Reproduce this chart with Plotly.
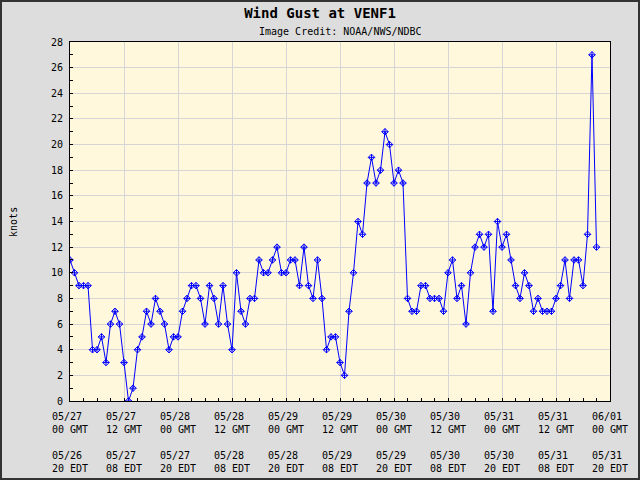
import plotly.graph_objects as go
import pandas as pd

# Hourly wind gust (knots) starting 05/27 00 GMT
gust = [11, 10, 9, 9, 9, 4, 4, 5, 3, 6, 7, 6, 3, 0, 1, 4, 5, 7, 6, 8,
        7, 6, 4, 5, 5, 7, 8, 9, 9, 8, 6, 9, 8, 6, 9, 6, 4, 10, 7, 6,
        8, 8, 11, 10, 10, 11, 12, 10, 10, 11, 11, 9, 12, 9, 8, 11, 8, 4, 5, 5,
        3, 2, 7, 10, 14, 13, 17, 19, 17, 18, 21, 20, 17, 18, 17, 8, 7, 7, 9, 9,
        8, 8, 8, 7, 10, 11, 8, 9, 6, 10, 12, 13, 12, 13, 7, 14, 12, 13, 11, 9,
        8, 10, 9, 7, 8, 7, 7, 7, 8, 9, 11, 8, 11, 11, 9, 13, 27, 12]
times = pd.date_range("2013-05-27 00:00", periods=len(gust), freq="h")

tick_times = pd.date_range("2013-05-27 00:00", "2013-06-01 00:00", freq="12h")
gmt_dates = ["05/27", "05/27", "05/28", "05/28", "05/29", "05/29",
             "05/30", "05/30", "05/31", "05/31", "06/01"]
gmt_hours = ["00 GMT", "12 GMT"] * 5 + ["00 GMT"]
edt_dates = ["05/26", "05/27", "05/27", "05/28", "05/28", "05/29",
             "05/29", "05/30", "05/30", "05/31", "05/31"]
edt_hours = ["20 EDT", "08 EDT"] * 5 + ["20 EDT"]

NB = "\u00a0"
ticktext = [f"{a}{NB}<br>{b}<br>{NB}<br>{c}{NB}<br>{d}"
            for a, b, c, d in zip(gmt_dates, gmt_hours, edt_dates, edt_hours)]

FONT = "DejaVu Sans Mono"

fig = go.Figure()
fig.add_trace(go.Scatter(
    x=times, y=gust, mode="lines+markers",
    line=dict(color="#0000FF", width=1),
    marker=dict(symbol="diamond-cross-open", size=5, color="#0000FF",
                line=dict(width=1, color="#0000FF")),
    hoverinfo="skip", showlegend=False,
))

fig.update_layout(
    width=640, height=480,
    margin=dict(l=70, r=30, t=42, b=79),
    paper_bgcolor="#DDDDDD",
    plot_bgcolor="#FFF8DC",
    font=dict(family=FONT, size=10, color="#000000"),
    title=dict(text="Wind Gust at VENF1", x=0.5, xanchor="center",
               y=1 - 13 / 480, yanchor="middle",
               font=dict(family=FONT, size=14, color="#000000", weight="bold")),
    showlegend=False,
)

fig.update_xaxes(
    range=[tick_times[0], tick_times[-1]],
    tickmode="array", tickvals=list(tick_times), ticktext=ticktext,
    ticks="inside", ticklen=3, tickcolor="#000000",
    ticklabelstandoff=6, automargin=False,
    showgrid=True, gridcolor="#D6D6D6", gridwidth=1,
    showline=True, linecolor="#000000", linewidth=1, mirror=True,
    minor=dict(ticks="inside", ticklen=3, tickcolor="#000000",
               dtick=3 * 3600 * 1000, tick0=tick_times[0], showgrid=False),
    zeroline=False,
    tickfont=dict(family=FONT, size=10),
)
fig.update_yaxes(
    range=[0, 28], dtick=2, tick0=0,
    ticks="inside", ticklen=3, tickcolor="#000000",
    ticklabelstandoff=4, automargin=False,
    showgrid=True, gridcolor="#D6D6D6", gridwidth=1,
    showline=True, linecolor="#000000", linewidth=1, mirror=True,
    minor=dict(ticks="inside", ticklen=3, tickcolor="#000000", dtick=1,
               showgrid=False),
    zeroline=False,
    tickfont=dict(family=FONT, size=10),
)

fig.add_annotation(text="Image Credit: NOAA/NWS/NDBC", xref="paper", yref="paper",
                   x=0.5, y=(401.3 - 32) / 358.8, xanchor="center", yanchor="middle",
                   showarrow=False, font=dict(family=FONT, size=10, color="#000000"))
fig.add_annotation(text="knots", xref="paper", yref="paper",
                   x=(14 - 70.5) / 539.5, y=0.5, xanchor="center", yanchor="middle",
                   textangle=-90, showarrow=False,
                   font=dict(family=FONT, size=10, color="#000000"))

# outer image border
fig.add_shape(type="rect", xref="paper", yref="paper",
              x0=(1 - 70) / 540, x1=(639 - 70) / 540,
              y0=(401 - 479) / 359, y1=(401 - 1) / 359,
              line=dict(color="#333333", width=2), fillcolor="rgba(0,0,0,0)",
              layer="above")

fig.write_html("out.html")
